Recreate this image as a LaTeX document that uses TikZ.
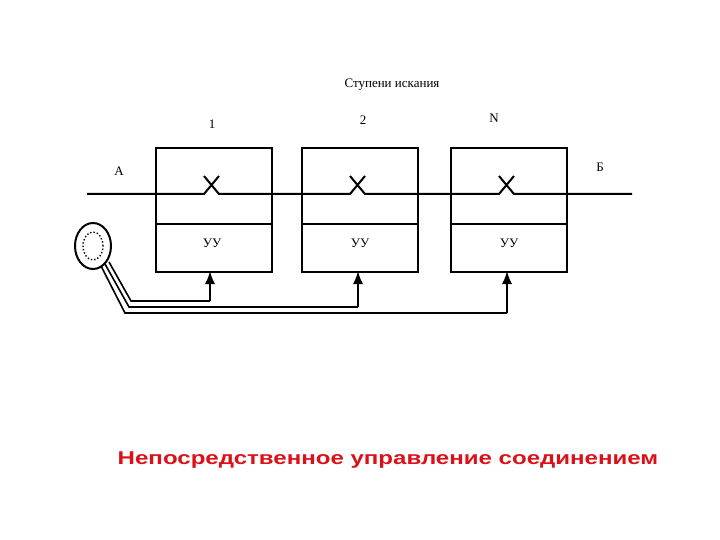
\documentclass[tikz,border=0pt]{standalone}
\usetikzlibrary{shapes.geometric,arrows.meta}
\usepackage{fontspec}
\usepackage{graphicx}
\setmainfont{Liberation Serif}
\newfontfamily\arialf{Liberation Sans}
\definecolor{capred}{RGB}{220,16,24}
\begin{document}
\begin{tikzpicture}[x=1pt,y=-1pt,
  ln/.style={line width=2pt},
  lbl/.style={font=\fontsize{13}{14}\selectfont},
  stage/.style={draw,line width=2pt,minimum width=116pt,minimum height=124pt,anchor=north west,inner sep=0pt},
  wire/.style={line width=1.6pt},
  arr/.style={line width=1.6pt,-{Latex[length=13pt,width=10pt]}}]
\useasboundingbox (0,0) rectangle (720,540);
\node[stage] (b1) at (155,147) {};
\node[stage] (b2) at (301,147) {};
\node[stage] (b3) at (450,147) {};
\foreach \b/\x in {b1/155,b2/301,b3/450}{
  \draw[ln] (\x,224) -- ++(116,0);
}
\node[lbl] (t) at (392,85) {Ступени искания};
\node[lbl] (n1) at (212,124) {1};
\node[lbl] (n2) at (363,120) {2};
\node[lbl] (n3) at (494,118) {N};
\node[lbl] (A) at (119,171) {А};
\node[lbl] (B) at (600,167) {Б};
\node[lbl] (u1) at (212,243) {УУ};
\node[lbl] (u2) at (360,243) {УУ};
\node[lbl] (u3) at (509,243) {УУ};
\draw[ln] (87,194) -- (204,194) -- (219,176) (204,176) -- (219,194)
  -- (350,194) -- (365,176) (350,176) -- (365,194)
  -- (499,194) -- (514,176) (499,176) -- (514,194) -- (632,194);
\node[draw,ellipse,line width=2pt,minimum width=36pt,minimum height=46pt,inner sep=0pt] (dial) at (93,246) {};
\draw[dotted,line width=1.4pt] (93,246) ellipse (10pt and 14pt);
\coordinate (w1) at (101,266);
\coordinate (w2) at (105,264);
\coordinate (w3) at (109,262);
\draw[wire] (w3) -- (131,301) -- (210,301);
\draw[arr] (210,301) -- (210,271);
\draw[wire] (w2) -- (129,307) -- (358,307);
\draw[arr] (358,307) -- (358,271);
\draw[wire] (w1) -- (125,313) -- (507,313);
\draw[arr] (507,313) -- (507,271);
\node[text=capred,font=\arialf\bfseries\fontsize{18.5}{20}\selectfont] (cap) at (388,460) {\scalebox{1.3}[1]{Непосредственное управление соединением}};
\end{tikzpicture}
\end{document}
